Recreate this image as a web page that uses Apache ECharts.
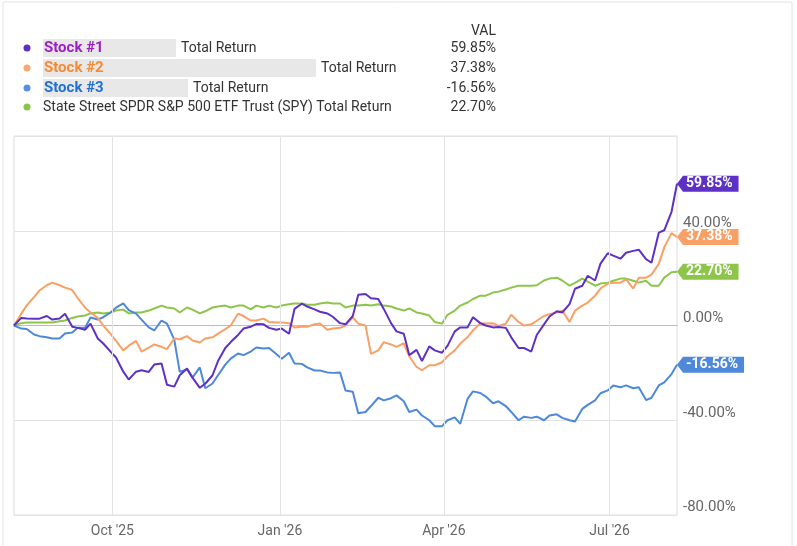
<!DOCTYPE html>
<html>
<head>
<meta charset="utf-8">
<script src="https://cdn.jsdelivr.net/npm/echarts@6/dist/echarts.min.js"></script>
<style>
  html, body { margin: 0; padding: 0; background: #fff; }
  #chart { width: 797px; height: 546px; }
</style>
</head>
<body>
<div id="chart"></div>
<script>
// twice-weekly sample dates (Fri / Tue)
const dates = [
  '2025-08-08','2025-08-12','2025-08-15','2025-08-19','2025-08-22','2025-08-26','2025-08-29',
  '2025-09-02','2025-09-05','2025-09-09','2025-09-12','2025-09-16','2025-09-19','2025-09-23','2025-09-26','2025-09-30',
  '2025-10-03','2025-10-07','2025-10-10','2025-10-14','2025-10-17','2025-10-21','2025-10-24','2025-10-28','2025-10-31',
  '2025-11-04','2025-11-07','2025-11-11','2025-11-14','2025-11-18','2025-11-21','2025-11-25','2025-11-28',
  '2025-12-02','2025-12-05','2025-12-09','2025-12-12','2025-12-16','2025-12-19','2025-12-23','2025-12-26','2025-12-30',
  '2026-01-02','2026-01-06','2026-01-09','2026-01-13','2026-01-16','2026-01-20','2026-01-23','2026-01-27','2026-01-30',
  '2026-02-03','2026-02-06','2026-02-10','2026-02-13','2026-02-17','2026-02-20','2026-02-24','2026-02-27',
  '2026-03-03','2026-03-06','2026-03-10','2026-03-13','2026-03-17','2026-03-20','2026-03-24','2026-03-27','2026-03-31',
  '2026-04-03','2026-04-07','2026-04-10','2026-04-14','2026-04-17','2026-04-21','2026-04-24','2026-04-28',
  '2026-05-01','2026-05-05','2026-05-08','2026-05-12','2026-05-15','2026-05-19','2026-05-22','2026-05-26','2026-05-29',
  '2026-06-02','2026-06-05','2026-06-09','2026-06-12','2026-06-16','2026-06-19','2026-06-23','2026-06-26','2026-06-30',
  '2026-07-03','2026-07-07','2026-07-10','2026-07-14','2026-07-17','2026-07-21','2026-07-24','2026-07-28','2026-07-31',
  '2026-08-04','2026-08-07'
];

const stock1 = [
  0, 3.2, 3.0, 2.9, 2.9, 4.0, 2.5, 3.0, 5.0, -0.5,
  -1.0, -1.8, 0.8, -5.5, -7.6, -11.0, -13.5, -19.5, -22.8, -19.5,
  -18.9, -19.6, -16.5, -16.0, -25.0, -25.8, -21.0, -18.2, -22.0, -26.3,
  -24.6, -21.0, -15.0, -9.5, -7.0, -4.0, -1.3, -0.5, 0.6, 0.5,
  -1.0, -1.8, -1.3, -3.5, 7.0, 9.2, 8.0, 6.8, 5.8, 5.1,
  3.7, 1.0, 0.5, 4.0, 13.0, 13.3, 11.5, 11.2, 7.0, 1.0,
  -2.5, -3.5, -12.5, -10.3, -15.0, -8.8, -10.5, -11.5, -8.6, -2.5,
  -0.8, -0.8, 3.5, 1.0, 0.0, -0.8, -0.6, -1.0, -5.0, -9.5,
  -9.5, -11.0, -4.0, 0.5, 3.8, 6.0, 5.5, 9.0, 15.5, 16.8,
  21.0, 19.0, 26.1, 30.5, 29.5, 28.2, 30.7, 31.5, 32.0, 28.0,
  26.5, 39.2, 40.2, 48.0, 59.85
];

const stock2 = [
  0, 5.0, 8.5, 12.0, 14.8, 17.0, 18.1, 17.0, 16.0, 15.0,
  11.5, 7.5, 5.5, 3.2, 0, -3.5, -6.5, -10.5, -8.5, -6.5,
  -11.0, -9.3, -8.0, -9.0, -10.0, -5.5, -5.8, -4.5, -6.3, -7.2,
  -5.5, -5.0, -3.4, -1.5, 0, 5.0, 4.0, 2.1, 2.1, 2.9,
  1.5, 1.3, 1.3, 1.0, -0.8, -0.5, -0.5, 0.5, 0.8, -1.8,
  -1.3, -1.0, 0.0, 3.4, 0.8, 0, -12.0, -10.5, -7.0, -8.0,
  -9.0, -7.5, -13.0, -17.5, -18.9, -16.8, -16.8, -15.5, -13.0, -10.5,
  -7.6, -5.0, -2.1, 1.0, 0.8, 1.0, -0.2, 0.8, 4.5, 1.5,
  0, 0.5, 2.0, 4.0, 4.8, 5.5, 6.3, 1.5, 6.3, 8.4,
  9.7, 12.6, 15.6, 17.7, 18.1, 18.1, 19.5, 15.6, 20.2, 20.2,
  21.5, 26.0, 33.0, 39.0, 37.38
];

const stock3 = [
  0, -1.3, -1.5, -3.8, -4.5, -5.0, -5.5, -5.5, -3.4, -3.0,
  -1.0, -1.0, 3.4, 2.5, 3.5, 5.5, 7.5, 9.3, 6.5, 5.0,
  2.5, -0.8, -2.1, 2.1, 0.8, -6.0, -19.6, -18.5, -22.0, -17.7,
  -26.5, -24.5, -21.0, -16.5, -14.0, -11.8, -12.5, -11.0, -9.3, -9.7,
  -9.5, -12.0, -14.0, -11.5, -16.0, -16.2, -17.7, -19.0, -19.0, -19.8,
  -20.0, -19.8, -27.4, -28.0, -37.0, -36.5, -34.0, -30.5, -31.6, -30.7,
  -29.5, -32.0, -36.5, -35.5, -38.0, -40.0, -42.5, -42.5, -40.0, -38.8,
  -41.5, -31.0, -27.8, -28.5, -30.0, -32.8, -32.0, -34.0, -36.5, -40.0,
  -38.5, -39.0, -38.5, -40.0, -38.0, -37.5, -39.0, -40.0, -40.5, -35.2,
  -33.5, -31.6, -28.6, -27.4, -25.3, -26.1, -25.3, -26.5, -26.1, -31.5,
  -30.5, -25.3, -24.0, -20.5, -16.56
];

const spy = [
  0, 1.0, 1.3, 1.3, 1.3, 1.3, 1.3, 1.8, 2.1, 3.2,
  3.8, 4.2, 5.1, 5.5, 5.1, 5.5, 6.3, 6.7, 5.1, 5.5,
  5.5, 6.3, 7.2, 8.4, 7.6, 7.2, 5.5, 7.6, 6.7, 5.1,
  6.0, 7.6, 8.0, 8.4, 7.6, 8.4, 8.4, 6.8, 8.4, 7.6,
  8.4, 7.6, 8.4, 9.0, 9.3, 9.3, 8.8, 8.8, 9.3, 9.7,
  9.3, 9.3, 7.6, 8.4, 8.4, 8.8, 8.4, 9.0, 8.4, 8.0,
  7.2, 6.3, 7.2, 5.5, 5.1, 4.2, 1.5, 0.8, 4.5, 6.3,
  8.4, 9.7, 11.2, 12.6, 12.6, 13.9, 14.3, 15.2, 16.0, 16.8,
  16.8, 16.8, 17.0, 19.0, 19.8, 20.2, 19.0, 16.8, 18.0, 19.8,
  18.5, 16.8, 17.7, 18.1, 18.9, 19.8, 19.8, 18.9, 18.1, 18.9,
  16.8, 16.8, 20.2, 22.5, 22.7
];

const xTicks = ['2025-10-01', '2026-01-01', '2026-04-01', '2026-07-01'];
const xTickLabels = ["Oct '25", "Jan '26", "Apr '26", "Jul '26"];

const seriesNames = ['Stock #1', 'Stock #2', 'Stock #3',
  'State Street SPDR S&P 500 ETF Trust (SPY)'];
const lineColors = ['#5d30c6', '#f9a067', '#4d88da', '#8cc54a'];
const nameColors = ['#9c1fc6', '#f58a33', '#1f70d2', '#333'];
const hiddenWidths = [133, 273, 145, 0];   // blurred boxes after the stock names
const finalVals = ['59.85%', '37.38%', '-16.56%', '22.70%'];

const font = 'Roboto, "Noto Sans", sans-serif';
const chart = echarts.init(document.getElementById('chart'));

function toPairs(vals) {
  return vals.map((v, i) => [dates[i], v]);
}

function lineSeries(idx, vals) {
  const last = vals.length - 1;
  return {
    name: seriesNames[idx],
    type: 'line',
    data: toPairs(vals),
    showSymbol: false,
    symbol: 'none',
    lineStyle: { width: 2, color: lineColors[idx] },
    itemStyle: { color: lineColors[idx] },
    emphasis: { disabled: true },
    markPoint: {
      symbol: 'path://M0,8L6,0L6,16Z',
      symbolSize: [6, 16],
      symbolOffset: [3, 0],
      itemStyle: { color: lineColors[idx] },
      label: {
        show: true,
        position: 'right',
        distance: 0,
        formatter: p => p.value.toFixed(2) + '%',
        color: '#fff',
        fontFamily: font,
        fontWeight: 'bold',
        fontSize: 14,
        lineHeight: 14,
        backgroundColor: lineColors[idx],
        padding: [1, 6, 1, 3]
      },
      data: [{ coord: [dates[last], vals[last]], value: vals[last] }]
    }
  };
}

// legend block drawn as graphics
const legendGraphics = [];
const rowY = [48, 68, 88, 107];
legendGraphics.push({
  type: 'text', x: 496, y: 31,
  style: { text: 'VAL', font: '14px ' + font, fill: '#333', align: 'right', verticalAlign: 'middle' }
});
const dotColors = ['#5b30c0', '#f9a871', '#5b8fdb', '#8bc34a'];
seriesNames.forEach((name, i) => {
  const y = rowY[i];
  legendGraphics.push({
    type: 'circle', shape: { cx: 27, cy: y, r: 3.5 }, style: { fill: dotColors[i] }
  });
  if (i < 3) {
    legendGraphics.push({
      type: 'rect', shape: { x: 43, y: y - 9, width: hiddenWidths[i], height: 18 },
      style: { fill: '#e8e8e8' }
    });
    legendGraphics.push({
      type: 'text', x: 44, y: y,
      style: { text: name, font: 'bold 15px ' + font, fill: nameColors[i], verticalAlign: 'middle' }
    });
    legendGraphics.push({
      type: 'text', x: 43 + hiddenWidths[i] + 5, y: y,
      style: { text: 'Total Return', font: '14px ' + font, fill: '#333', verticalAlign: 'middle' }
    });
  } else {
    legendGraphics.push({
      type: 'text', x: 43, y: y,
      style: { text: name + ' Total Return', font: '14px ' + font, fill: '#333', verticalAlign: 'middle' }
    });
  }
  legendGraphics.push({
    type: 'text', x: 496, y: y,
    style: { text: finalVals[i], font: '14px ' + font, fill: '#333', align: 'right', verticalAlign: 'middle' }
  });
});
// outer frame
legendGraphics.push({
  type: 'rect', shape: { x: 3, y: 2, width: 789, height: 600 },
  style: { fill: 'none', stroke: '#e4e4e4', lineWidth: 1 }, z: -1
});

const DAY = 24 * 3600 * 1000;
const quarterLabel = {};
xTicks.forEach((d, i) => { quarterLabel[d.slice(0, 7)] = xTickLabels[i]; });

// vertical grid lines at quarter starts
const quarterLines = {
  silent: true,
  symbol: 'none',
  label: { show: false },
  lineStyle: { color: '#e3e3e3', width: 1, type: 'solid' },
  data: xTicks.map(d => ({ xAxis: d }))
};

const series = [
  lineSeries(3, spy),
  lineSeries(2, stock3),
  lineSeries(1, stock2),
  lineSeries(0, stock1)
];
series[0].markLine = quarterLines;
series[0].z = 1;

const option = {
  animation: false,
  backgroundColor: '#fff',
  textStyle: { fontFamily: font },
  graphic: legendGraphics,
  grid: {
    left: 14, right: 120, top: 136, bottom: 31,
    show: true, borderColor: '#dcdcdc', borderWidth: 1
  },
  xAxis: {
    type: 'time',
    min: '2025-08-08',
    max: '2026-08-07',
    minInterval: 28 * DAY,
    maxInterval: 31 * DAY,
    axisLine: { show: true, lineStyle: { color: '#bdbdbd', width: 1 } },
    axisTick: { show: false },
    axisLabel: {
      color: '#666',
      fontSize: 14,
      margin: 9,
      hideOverlap: false,
      formatter: v => {
        const d = new Date(v);
        const key = d.getFullYear() + '-' + String(d.getMonth() + 1).padStart(2, '0');
        return d.getDate() === 1 && quarterLabel[key] ? quarterLabel[key] : '';
      }
    },
    splitLine: { show: false }
  },
  yAxis: {
    type: 'value',
    position: 'right',
    min: -80,
    max: 80,
    interval: 40,
    axisLine: { show: false },
    axisTick: { show: false },
    axisLabel: {
      color: '#666',
      fontSize: 15,
      margin: 6,
      verticalAlign: 'bottom',
      formatter: v => (v >= 80 ? '' : v.toFixed(2) + '%')
    },
    splitLine: { show: true, lineStyle: { color: '#e3e3e3', width: 1 } }
  },
  series: series
};

chart.setOption(option);
</script>
</body>
</html>
